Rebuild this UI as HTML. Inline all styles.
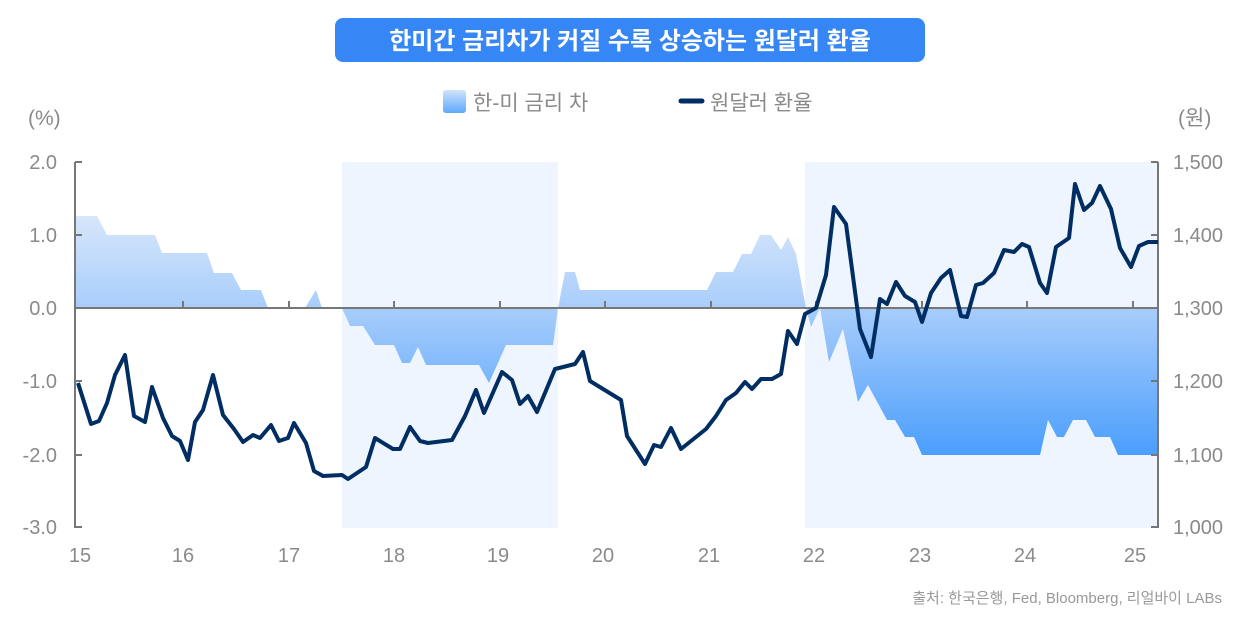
<!DOCTYPE html>
<html><head><meta charset="utf-8"><style>
html,body{margin:0;padding:0;background:#fff;}
svg{display:block;font-family:"Liberation Sans","Noto Sans CJK KR",sans-serif;}
</style></head><body>
<svg width="1260" height="622" viewBox="0 0 1260 622" xmlns="http://www.w3.org/2000/svg">
<defs>
<linearGradient id="g" gradientUnits="userSpaceOnUse" x1="0" y1="214" x2="0" y2="456">
<stop offset="0" stop-color="#d8e7fb"/>
<stop offset="0.39" stop-color="#a8cdfb"/>
<stop offset="1" stop-color="#4a9efd"/>
</linearGradient>
<linearGradient id="lg" x1="0" y1="0" x2="0" y2="1">
<stop offset="0" stop-color="#d0e3fb"/><stop offset="1" stop-color="#5fa8fc"/>
</linearGradient>
</defs>
<rect x="335" y="18" width="590" height="44" rx="8" fill="#3786f5"/>
<text x="630" y="49" text-anchor="middle" font-size="24" font-weight="bold" fill="#fff">한미간 금리차가 커질 수록 상승하는 원달러 환율</text>
<rect x="443" y="90" width="23" height="23" rx="3" fill="url(#lg)"/>
<text x="473" y="110" font-size="21" fill="#8a8a8a">한-미 금리 차</text>
<line x1="681" y1="101" x2="702" y2="101" stroke="#002d62" stroke-width="5" stroke-linecap="round"/>
<text x="710" y="110" font-size="21" fill="#8a8a8a">원달러 환율</text>
<text x="28" y="125" font-size="21" fill="#8a8a8a">(%)</text>
<text x="1178" y="125" font-size="21" fill="#8a8a8a">(원)</text>

<rect x="342" y="162" width="216" height="366" fill="#eef5fe"/>
<rect x="805" y="162" width="353" height="366" fill="#eef5fe"/>

<path fill="url(#g)" d="M76,308 L76,216 L97,216 L107,235 L155,235 L162,253 L207,253 L214,273 L232,273 L241,290 L261,290 L268,308 L305,308 L316,290 L322,308 L342,308 L350,326 L363,326 L375,345 L394,345 L402,363 L410,363 L418,347 L426,365 L479,365 L489,383 L506,345 L553,345 L558,308 L565,272 L575,272 L580,290 L707,290 L716,272 L733,272 L742,254 L751,254 L760,235 L771,235 L781,250 L788,237 L796,254 L806,308 L811,327 L820,308 L829,362 L843,329 L858,402 L868,385 L887,420 L895,420 L905,437 L914,437 L922,455 L1040,455 L1048,420 L1057,437 L1064,437 L1073,420 L1086,420 L1095,437 L1110,437 L1118,455 L1158,455 L1158,308 Z"/>

<g stroke="#777" stroke-width="2" fill="none">
<line x1="75" y1="162" x2="75" y2="528"/>
<line x1="1158" y1="162" x2="1158" y2="528"/>
<line x1="75" y1="308" x2="1158" y2="308"/>
<path d="M75,162h7M75,235h7M75,381h7M75,455h7M75,527h7"/>
<path d="M1158,162h-7M1158,235h-7M1158,381h-7M1158,455h-7M1158,527h-7"/>
<path d="M183,308v-7M289,308v-7M394,308v-7M500,308v-7M605,308v-7M711,308v-7M816,308v-7M922,308v-7M1027,308v-7M1133,308v-7"/>
</g>

<polyline fill="none" stroke="#002d62" stroke-width="4" stroke-linejoin="round" points="78,383 91,424 99,421 107,403 115,375 125,355 134,416 145,422 152,387 163,418 172,436 180,441 188,460 195,422 203,410 213,375 223,415 234,429 243,442 253,435 260,438 271,425 279,441 288,438 294,423 306,443 314,471 323,476 342,475 348,479 366,467 375,438 393,449 400,449 410,427 420,441 428,443 452,440 465,416 476,390 484,413 502,372 512,380 520,404 528,396 537,412 555,369 575,364 583,352 590,381 621,400 627,436 645,464 654,445 661,447 671,428 681,449 706,429 716,416 726,400 736,393 745,382 752,389 761,379 772,379 781,374 788,331 797,344 805,314 816,308 826,275 834,207 846,224 860,329 871,357 880,299 887,304 896,282 905,296 915,302 922,322 931,293 941,278 950,270 961,316 967,317 976,285 983,283 994,273 1004,250 1014,252 1022,244 1029,247 1040,283 1047,293 1056,247 1069,238 1075,184 1084,210 1092,203 1100,186 1111,209 1120,248 1131,267 1139,246 1148,242 1158,242"/>

<g font-size="20" fill="#8a8a8a" text-anchor="end" font-weight="500">
<text x="57" y="169">2.0</text><text x="57" y="242">1.0</text><text x="57" y="315">0.0</text>
<text x="57" y="388">-1.0</text><text x="57" y="462">-2.0</text><text x="57" y="534">-3.0</text>
</g>
<g font-size="20" fill="#8a8a8a" font-weight="500">
<text x="1173" y="169">1,500</text><text x="1173" y="242">1,400</text><text x="1173" y="315">1,300</text>
<text x="1173" y="388">1,200</text><text x="1173" y="462">1,100</text><text x="1173" y="534">1,000</text>
</g>
<g font-size="20" fill="#8a8a8a" text-anchor="middle" font-weight="500">
<text x="80" y="562">15</text><text x="183" y="562">16</text><text x="289" y="562">17</text><text x="394" y="562">18</text><text x="498" y="562">19</text><text x="603" y="562">20</text><text x="709" y="562">21</text><text x="814" y="562">22</text><text x="920" y="562">23</text><text x="1025" y="562">24</text><text x="1135" y="562">25</text>
</g>
<text x="1222" y="603" text-anchor="end" font-size="15" fill="#999">출처: 한국은행, Fed, Bloomberg, 리얼바이 LABs</text>
</svg>
</body></html>
